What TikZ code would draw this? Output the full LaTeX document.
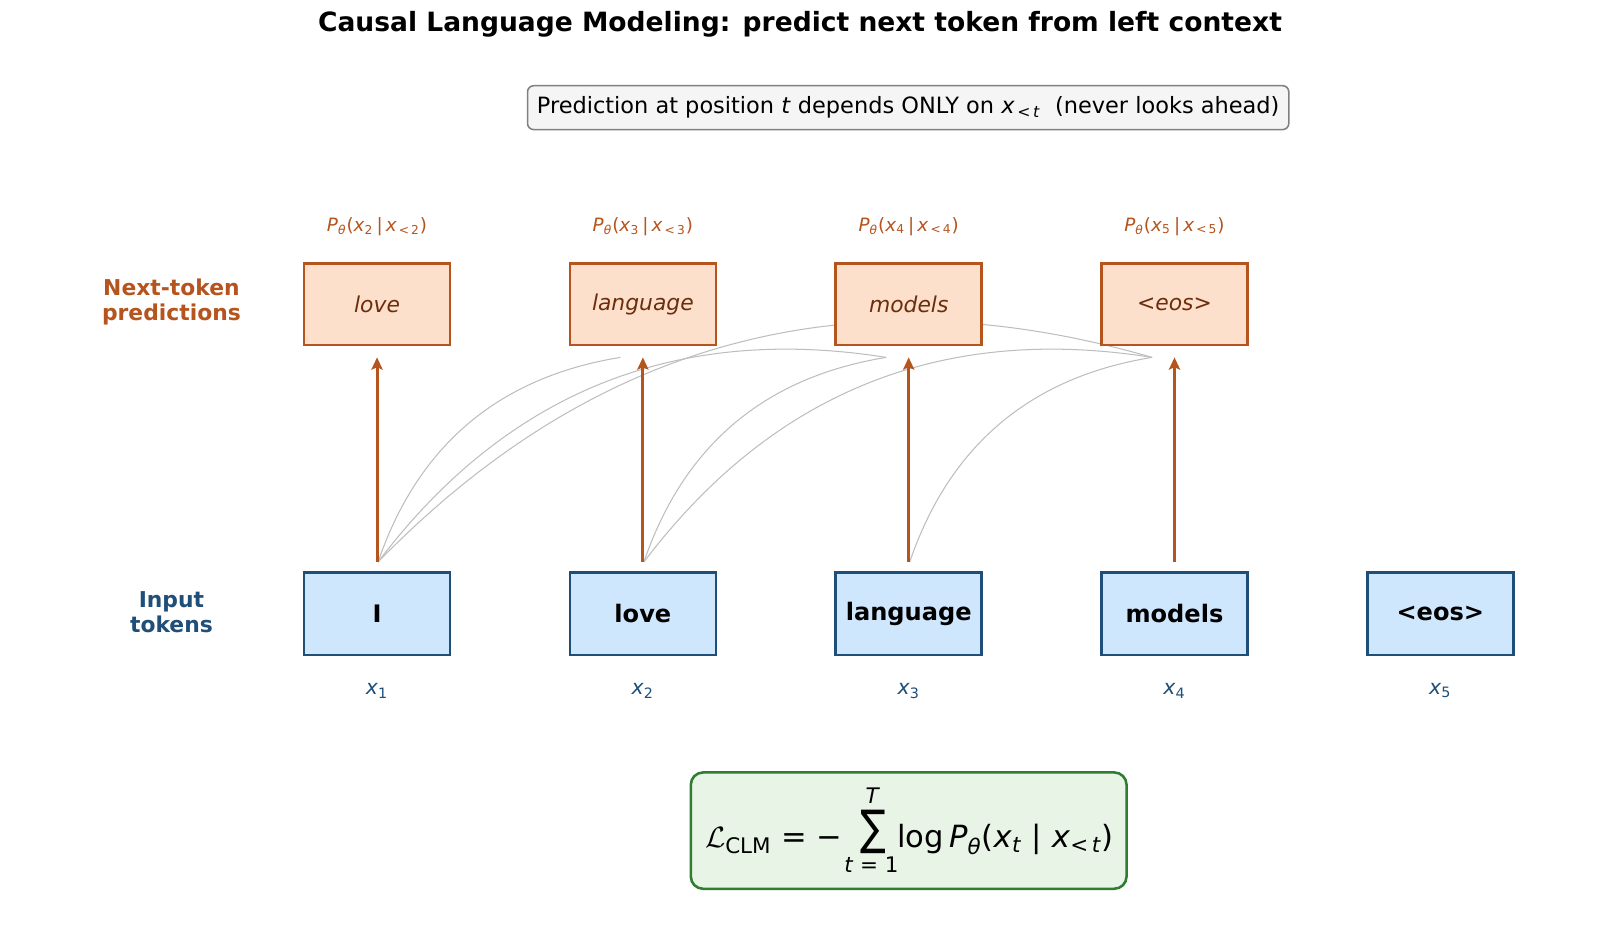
\documentclass[tikz,border=0pt]{standalone}
\usepackage{fontspec}
\setmainfont{DejaVu Sans}
\usetikzlibrary{arrows.meta,calc}
\pgfdeclarelayer{bg}
\pgfsetlayers{bg,main}
\definecolor{predfill}{HTML}{FDE0CB}
\definecolor{preddraw}{HTML}{B5541C}
\definecolor{predtext}{HTML}{6B2D0C}
\definecolor{infill}{HTML}{CFE7FC}
\definecolor{indraw}{HTML}{1F4E79}
\definecolor{notefill}{HTML}{F5F5F5}
\definecolor{notedraw}{HTML}{808080}
\definecolor{fmfill}{HTML}{E8F5E6}
\definecolor{fmdraw}{HTML}{2E7D32}
\definecolor{attn}{HTML}{BDBDBD}
\newcommand{\attncurve}[2]{%
  \path ($(#1)!0.5!(#2)$) coordinate (m)
        ($(m)!0.6!90:(#2)$) coordinate (c)
        ($(#1)!0.6667!(c)$) coordinate (c1)
        ($(#2)!0.6667!(c)$) coordinate (c2);
  \begin{pgfonlayer}{bg}
  \draw[attnline] (#1) .. controls (c1) and (c2) .. (#2);
  \end{pgfonlayer}}
\begin{document}
\begin{tikzpicture}[x=0.5pt,y=-0.5pt,
  predbox/.style={draw=preddraw,fill=predfill,line width=1.25pt,minimum width=71.5pt,minimum height=40pt,inner sep=0pt,text=predtext,font=\itshape\fontsize{10.7}{12.8}\selectfont},
  tokbox/.style={draw=indraw,fill=infill,line width=1.25pt,minimum width=71.5pt,minimum height=40.5pt,inner sep=0pt,text=black,font=\bfseries\fontsize{11.8}{14}\selectfont},
  plabel/.style={text=preddraw,font=\fontsize{9}{11}\selectfont,inner sep=0pt},
  xlabel/.style={text=indraw,font=\fontsize{10}{12}\selectfont,inner sep=0pt},
  rowlabel/.style={align=center,font=\bfseries\fontsize{10.7}{12.5}\selectfont,inner sep=0pt},
  predarrow/.style={draw=preddraw,line width=1.5pt,-{Stealth[length=6pt,width=5.5pt,inset=1.2pt]},shorten <=4.5pt,shorten >=5.5pt},
  attnline/.style={draw=attn,line width=0.5pt},
  notebox/.style={draw=notedraw,fill=notefill,rounded corners=3pt,line width=0.75pt,minimum width=373pt,minimum height=21.5pt,inner sep=0pt,font=\fontsize{11}{13}\selectfont},
  fmbox/.style={draw=fmdraw,fill=fmfill,rounded corners=6pt,line width=1.25pt,minimum width=213.5pt,minimum height=57pt,inner sep=0pt},
  fmtext/.style={inner sep=0pt,font=\fontsize{15}{18}\selectfont},
  fmlim/.style={inner sep=0pt,font=\fontsize{10.5}{12}\selectfont}
]
\begin{pgfonlayer}{bg}
\fill[white] (0,0) rectangle (1568,919);
\end{pgfonlayer}
\path[use as bounding box] (0,0) rectangle (1568,919);

\node[font=\bfseries\fontsize{13}{15}\selectfont,inner sep=0pt] (title) at (784,24) {Causal Language Modeling: predict next token from left context};

\node[notebox] (note) at (890,105.5) {Prediction at position \textit{t} depends ONLY on \textit{x}\textsubscript{\,<\,\textit{t}}\ \ (never looks ahead)};

\node[rowlabel,text=preddraw] (lpred) at (168,296) {Next-token\\predictions};
\node[rowlabel,text=indraw] (lin) at (168,600) {Input\\tokens};

% prediction boxes
\node[predbox] (p1) at (369.5,298) {love};
\node[predbox] (p2) at (630,298) {language};
\node[predbox] (p3) at (890.5,298) {models};
\node[predbox] (p4) at (1151,298) {<eos>};

\node[plabel] (pl1) at (369.5,222) {\textit{P}\textsubscript{\textit{θ}}(\textit{x}\textsubscript{2}\,|\,\textit{x}\textsubscript{\,<\,2})};
\node[plabel] (pl2) at (630,222) {\textit{P}\textsubscript{\textit{θ}}(\textit{x}\textsubscript{3}\,|\,\textit{x}\textsubscript{\,<\,3})};
\node[plabel] (pl3) at (890.5,222) {\textit{P}\textsubscript{\textit{θ}}(\textit{x}\textsubscript{4}\,|\,\textit{x}\textsubscript{\,<\,4})};
\node[plabel] (pl4) at (1151,222) {\textit{P}\textsubscript{\textit{θ}}(\textit{x}\textsubscript{5}\,|\,\textit{x}\textsubscript{\,<\,5})};

% input boxes
\node[tokbox] (t1) at (369.5,601.5) {I};
\node[tokbox] (t2) at (630,601.5) {love};
\node[tokbox] (t3) at (890.5,601.5) {language};
\node[tokbox] (t4) at (1151,601.5) {models};
\node[tokbox] (t5) at (1411.5,601.5) {<eos>};

\node[xlabel] (x1) at (369.5,677) {\textit{x}\textsubscript{1}};
\node[xlabel] (x2) at (630,677) {\textit{x}\textsubscript{2}};
\node[xlabel] (x3) at (890.5,677) {\textit{x}\textsubscript{3}};
\node[xlabel] (x4) at (1151,677) {\textit{x}\textsubscript{4}};
\node[xlabel] (x5) at (1411.5,677) {\textit{x}\textsubscript{5}};

% straight prediction arrows
\foreach \i in {1,2,3,4} {\draw[predarrow] (t\i.north) -- (p\i.south);}

% attention curves (causal: input i -> later predictions)
\foreach \i in {1,2,3} {\coordinate (s\i) at ($(t\i.north)+(1,-9)$);}
\foreach \j in {2,3,4} {\coordinate (e\j) at ($(p\j.south)+(-22,11)$);}
\attncurve{s1}{e2}
\attncurve{s1}{e3}
\attncurve{s1}{e4}
\attncurve{s2}{e3}
\attncurve{s2}{e4}
\attncurve{s3}{e4}

% loss
\node[fmbox] (loss) at (890.5,814) {};
\node[fmtext,anchor=base east] (lhs) at (826,831) {$\mathcal{L}$\textsubscript{CLM} = −};
\node[inner sep=0pt,anchor=base] (sigma) at (855.5,828) {\scalebox{0.72}[0.9]{\fontsize{26}{26}\selectfont ∑}};
\node[fmlim,anchor=south] (supT) at (855.5,788) {\textit{T}};
\node[fmlim,anchor=north] (subt) at (854,839) {\textit{t} = 1};
\node[fmtext,anchor=base west] (rhs) at (879,831) {log\,\textit{P}\textsubscript{\textit{θ}}(\textit{x}\textsubscript{\textit{t}} | \textit{x}\textsubscript{<\,\textit{t}})};
\end{tikzpicture}
\end{document}
